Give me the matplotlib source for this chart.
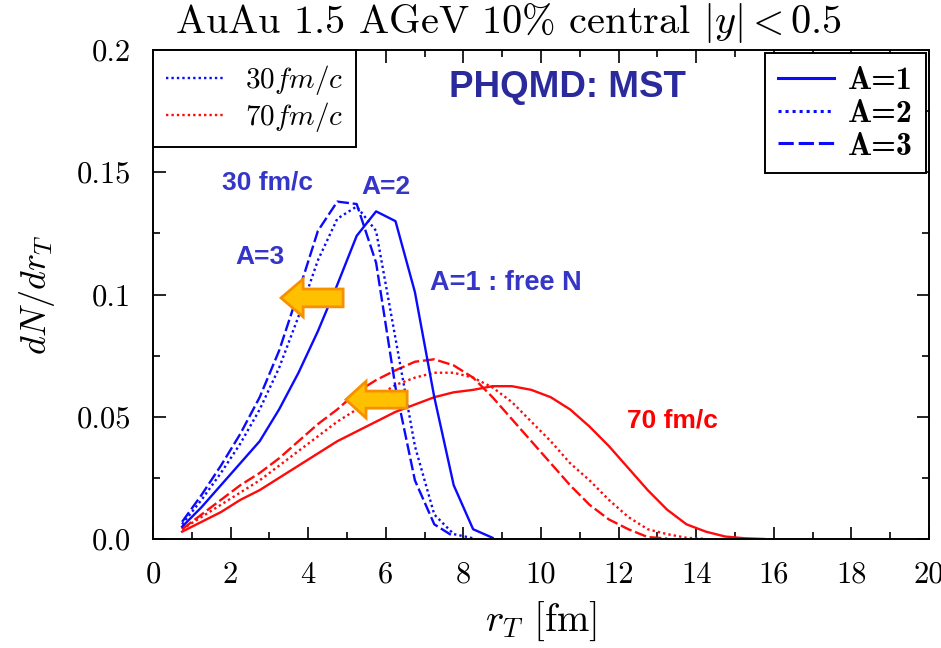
import matplotlib
matplotlib.use("Agg")
import matplotlib.pyplot as plt
from matplotlib.patches import FancyArrow
from matplotlib.lines import Line2D
from matplotlib.ticker import MultipleLocator

plt.rcParams['font.family'] = ['cmr10']
plt.rcParams['mathtext.fontset'] = 'cm'
plt.rcParams['axes.unicode_minus'] = False
plt.rcParams['axes.formatter.use_mathtext'] = True

# ---------------- data ----------------
x_blue_a1 = [0.75, 1.25, 1.75, 2.25, 2.75, 3.25, 3.75, 4.25, 4.75, 5.25, 5.75, 6.25, 6.75, 7.25, 7.75, 8.25, 8.75]
y_blue_a1 = [0.005, 0.013, 0.022, 0.031, 0.040, 0.053, 0.068, 0.085, 0.104, 0.124, 0.134, 0.130, 0.101, 0.058, 0.022, 0.004, 0.0005]

x_blue_a2 = [0.75, 1.25, 1.75, 2.25, 2.75, 3.25, 3.75, 4.25, 4.75, 5.25, 5.75, 6.25, 6.75, 7.25, 7.75, 8.25]
y_blue_a2 = [0.006, 0.016, 0.027, 0.039, 0.053, 0.070, 0.091, 0.114, 0.131, 0.136, 0.126, 0.082, 0.038, 0.010, 0.002, 0.0003]

x_blue_a3 = [0.75, 1.25, 1.75, 2.25, 2.75, 3.25, 3.75, 4.25, 4.75, 5.25, 5.75, 6.25, 6.75, 7.25, 7.75]
y_blue_a3 = [0.007, 0.018, 0.030, 0.043, 0.058, 0.077, 0.101, 0.126, 0.138, 0.137, 0.113, 0.062, 0.024, 0.006, 0.001]

x_red_a1 = [0.75, 1.25, 1.75, 2.25, 2.75, 3.25, 3.75, 4.25, 4.75, 5.25, 5.75, 6.25, 6.75, 7.25, 7.75, 8.25,
            8.75, 9.25, 9.75, 10.25, 10.75, 11.25, 11.75, 12.25, 12.75, 13.25, 13.75, 14.25, 14.75, 15.25, 15.75]
y_red_a1 = [0.003, 0.007, 0.011, 0.016, 0.020, 0.025, 0.030, 0.035, 0.040, 0.044, 0.048, 0.052, 0.055, 0.058, 0.060, 0.061,
            0.0625, 0.0625, 0.061, 0.058, 0.053, 0.046, 0.038, 0.029, 0.020, 0.012, 0.006, 0.003, 0.001, 0.0003, 0.0]

x_red_a2 = [0.75, 1.25, 1.75, 2.25, 2.75, 3.25, 3.75, 4.25, 4.75, 5.25, 5.75, 6.25, 6.75, 7.25, 7.75, 8.25,
            8.75, 9.25, 9.75, 10.25, 10.75, 11.25, 11.75, 12.25, 12.75, 13.25, 13.75, 14.25]
y_red_a2 = [0.004, 0.009, 0.014, 0.019, 0.024, 0.030, 0.036, 0.042, 0.048, 0.053, 0.058, 0.063, 0.066, 0.068, 0.068, 0.066,
            0.062, 0.056, 0.048, 0.040, 0.031, 0.024, 0.016, 0.009, 0.004, 0.002, 0.0005, 0.0]

x_red_a3 = [0.75, 1.25, 1.75, 2.25, 2.75, 3.25, 3.75, 4.25, 4.75, 5.25, 5.75, 6.25, 6.75, 7.25, 7.75, 8.25,
            8.75, 9.25, 9.75, 10.25, 10.75, 11.25, 11.75, 12.25, 12.75, 13.25]
y_red_a3 = [0.004, 0.010, 0.016, 0.022, 0.027, 0.033, 0.040, 0.047, 0.053, 0.060, 0.065, 0.069, 0.0725, 0.0735, 0.071, 0.066,
            0.058, 0.049, 0.040, 0.031, 0.022, 0.014, 0.008, 0.004, 0.0008, 0.0002]

x_ticks = [0, 2, 4, 6, 8, 10, 12, 14, 16, 18, 20]
x_tick_labels = ['0', '2', '4', '6', '8', '10', '12', '14', '16', '18', '20']
y_ticks = [0.0, 0.05, 0.1, 0.15, 0.2]
y_tick_labels = ['0.0', '0.05', '0.1', '0.15', '0.2']

time_labels = ['$30fm/c$', '$70fm/c$']
a_labels = ['A=1', 'A=2', 'A=3']

# ---------------- figure ----------------
BLUE = '#0a0aff'
RED = '#ff0a0a'
SOLID = '-'
DOT = (0, (1.0, 1.3))
DASH = (0, (5.0, 1.6))

fig = plt.figure(figsize=(9.41, 6.48), dpi=100)
ax = fig.add_axes([153/941, 1-539/648, (929-153)/941, (539-50)/648])

lw = 1.7
ax.plot(x_red_a1, y_red_a1, color=RED, lw=lw, ls=SOLID)
ax.plot(x_red_a2, y_red_a2, color=RED, lw=lw, ls=DOT)
ax.plot(x_red_a3, y_red_a3, color=RED, lw=lw, ls=DASH)
ax.plot(x_blue_a1, y_blue_a1, color=BLUE, lw=lw, ls=SOLID)
ax.plot(x_blue_a2, y_blue_a2, color=BLUE, lw=lw, ls=DOT)
ax.plot(x_blue_a3, y_blue_a3, color=BLUE, lw=lw, ls=DASH)

ax.set_xlim(0, 20)
ax.set_ylim(0, 0.2)
ax.set_xticks(x_ticks)
ax.set_xticklabels(x_tick_labels)
ax.set_yticks(y_ticks)
ax.set_yticklabels(y_tick_labels)
ax.yaxis.set_minor_locator(MultipleLocator(0.025))
ax.xaxis.set_minor_locator(MultipleLocator(1))
ax.tick_params(which='both', direction='in', top=True, right=True, labelsize=22, pad=16, width=1.2)
ax.tick_params(which='major', length=9)
ax.tick_params(which='minor', length=5)
for s in ax.spines.values():
    s.set_linewidth(1.4)

ax.set_xlabel(r'$r_T$ [fm]', fontsize=28, labelpad=8)
ax.set_ylabel(r'$dN/dr_T$', fontsize=26, labelpad=14)

fig.text(509/941, 1-23/648, r'AuAu 1.5 AGeV 10% central $|y|<0.5$', fontsize=29,
         ha='center', va='center')

# legends
h_time = [Line2D([], [], color=BLUE, lw=lw, ls=DOT), Line2D([], [], color=RED, lw=lw, ls=DOT)]
leg1 = ax.legend(h_time, time_labels, loc='upper left', fontsize=21, frameon=True, fancybox=False,
                 edgecolor='black', framealpha=1, handlelength=2.0, borderaxespad=0.0,
                 labelspacing=0.1, borderpad=0.45, handletextpad=0.7)
leg1.get_frame().set_linewidth(1.4)
ax.add_artist(leg1)

h_a = [Line2D([], [], color=BLUE, lw=2.2, ls=SOLID), Line2D([], [], color=BLUE, lw=2.2, ls=DOT),
       Line2D([], [], color=BLUE, lw=2.2, ls=DASH)]
leg2 = ax.legend(h_a, a_labels, loc='upper right', prop={'family': 'cmb10', 'size': 23},
                 frameon=True, fancybox=False,
                 edgecolor='black', framealpha=1, handlelength=1.75, borderaxespad=0.1,
                 labelspacing=0.12, borderpad=0.4, handletextpad=0.45)
leg2.get_frame().set_linewidth(1.4)

# annotations
TXT_BLUE = '#3535c8'
sans = ['Liberation Sans', 'DejaVu Sans']
ax.text(10.67, 0.1845, 'PHQMD: MST', color='#2a2a9c', fontsize=26.5, fontweight='bold', family=sans,
        ha='center', va='center')
ax.text(2.96, 0.146, '30 fm/c', color=TXT_BLUE, fontsize=19, fontweight='bold', family=sans, ha='center', va='center')
ax.text(6.0, 0.1438, 'A=2', color=TXT_BLUE, fontsize=19, fontweight='bold', family=sans, ha='center', va='center')
ax.text(2.76, 0.1155, 'A=3', color=TXT_BLUE, fontsize=19, fontweight='bold', family=sans, ha='center', va='center')
ax.text(9.1, 0.1047, 'A=1 : free N', color=TXT_BLUE, fontsize=19.5, fontweight='bold', family=sans, ha='center', va='center')
ax.text(13.4, 0.0485, '70 fm/c', color='#ff0000', fontsize=19, fontweight='bold', family=sans, ha='center', va='center')

# orange arrows
for tail_x, tip_x, yc, bw, hw, hl in [(4.90, 3.30, 0.0986, 0.0073, 0.0155, 0.57),
                                      (6.55, 4.97, 0.0570, 0.0070, 0.0150, 0.52)]:
    ar = FancyArrow(tail_x, yc, tip_x - tail_x, 0, width=bw, head_width=hw, head_length=hl,
                    length_includes_head=True, facecolor='#ffc000', edgecolor='#f79000', lw=2, zorder=5)
    ax.add_patch(ar)

fig.savefig('out.png', dpi=100)
